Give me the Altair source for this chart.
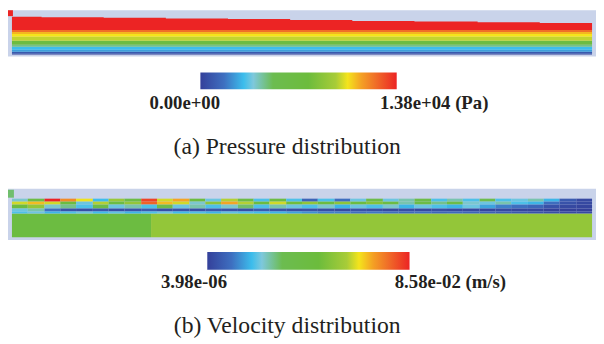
import altair as alt
import numpy as np
import pandas as pd

# ---------------- colour map (Fluent-like rainbow) ----------------
cmap_frac = [0.0, 0.12, 0.22, 0.27, 0.37, 0.55, 0.69, 0.75, 0.82, 0.89, 1.0]
cmap_colors = ["#34409a", "#3e6fc0", "#3cbdec", "#7ec8dc", "#6cbc50", "#6cbc3c",
               "#a8cc38", "#f4e41c", "#f4a024", "#f07028", "#ec2424"]

# ---------------- (a) pressure field ----------------
p_min, p_max = 0.0, 13800.0
p_ticks = [0.0, 13800.0]
p_tick_labels = ["0.00e+00", "1.38e+04 (Pa)"]
# horizontal pressure bands below the surface layer (height above bed) and pressure (Pa)
band_z0 = [0, 1, 3, 5, 8, 10, 14, 18, 21, 23]
band_z1 = [1, 3, 5, 8, 10, 14, 18, 21, 23, 25]
band_p = [0, 830, 2500, 3050, 4550, 6900, 9800, 10350, 11000, 12300]
# top (maximum pressure) layer up to the stepped free surface
top_z0 = 25
top_p = 13800
surf_x = [0, 30, 93, 156, 219, 282, 345, 408, 472, 535, 588]
surf_z = [38.5, 38.0, 37.4, 36.7, 36.0, 35.0, 34.2, 33.5, 32.8, 32.0, 32.0]
channel_x0, channel_x1 = 0, 588
# inlet cell
inlet_a = {"x0": -4, "x1": 1, "z0": 39, "z1": 45, "v": 13800.0}

# ---------------- (b) velocity field ----------------
v_min, v_max = 3.98e-06, 8.58e-02
v_ticks = [3.98e-06, 8.58e-02]
v_tick_labels = ["3.98e-06", "8.58e-02 (m/s)"]
n_cols = 36
row_z0 = [36, 33, 29, 26, 24]
row_z1 = [39, 36, 33, 29, 26]
row1 = [0.024, 0.040, 0.086, 0.073, 0.064, 0.019, 0.056, 0.040, 0.082, 0.062,
        0.070, 0.045, 0.022, 0.060, 0.040, 0.020, 0.042, 0.020, 0.008, 0.020,
        0.010, 0.022, 0.036, 0.022, 0.026, 0.038, 0.020, 0.026, 0.020, 0.034,
        0.020, 0.022, 0.026, 0.018, 0.006, 0.002]
row2 = [0.062, 0.068, 0.062, 0.045, 0.022, 0.060, 0.042, 0.055, 0.078, 0.068,
        0.062, 0.024, 0.054, 0.070, 0.060, 0.045, 0.062, 0.048, 0.055, 0.045,
        0.054, 0.044, 0.052, 0.042, 0.026, 0.040, 0.028, 0.038, 0.024, 0.022,
        0.026, 0.020, 0.018, 0.010, 0.004, 0.002]
row3 = [0.045, 0.055, 0.024, 0.028, 0.020, 0.036, 0.022, 0.026, 0.020, 0.034,
        0.022, 0.026, 0.020, 0.024, 0.030, 0.020, 0.026, 0.022, 0.020, 0.024,
        0.018, 0.022, 0.020, 0.024, 0.018, 0.022, 0.020, 0.018, 0.022, 0.016,
        0.012, 0.010, 0.008, 0.004, 0.002, 0.001]
row4 = [0.022, 0.026, 0.010, 0.004, 0.003, 0.005, 0.003, 0.004, 0.006, 0.003,
        0.004, 0.003, 0.005, 0.004, 0.003, 0.006, 0.004, 0.003, 0.004, 0.003,
        0.002, 0.004, 0.003, 0.002, 0.003, 0.002, 0.003, 0.002, 0.002, 0.001,
        0.002, 0.001, 0.001, 0.00001, 0.00001, 0.00001]
row5 = [0.020, 0.022, 0.018, 0.020, 0.022, 0.019, 0.021, 0.018, 0.020, 0.022,
        0.019, 0.020, 0.018, 0.021, 0.020, 0.019, 0.018, 0.016, 0.014, 0.012,
        0.012, 0.010, 0.011, 0.010, 0.009, 0.010, 0.008, 0.009, 0.008, 0.007,
        0.006, 0.005, 0.004, 0.003, 0.002, 0.002]
bulk_x0 = [0, 141]
bulk_x1 = [141, 588]
bulk_v = [0.043, 0.055]
bulk_z0, bulk_z1 = 0, 24
inlet_b = {"x0": -4, "x1": 2, "z0": 40, "z1": 48, "v": 0.030}

# ---------------- build tables ----------------
a_rows = []
for z0, z1, p in zip(band_z0, band_z1, band_p):
    a_rows.append({"x0": channel_x0, "x1": channel_x1, "z0": z0, "z1": z1, "v": p})
a_rows.append(inlet_a)
df_a = pd.DataFrame(a_rows)
df_a_top = pd.DataFrame({"x": surf_x, "zs": surf_z, "z0": top_z0, "v": top_p})

edges = np.round(np.linspace(0, 588, n_cols + 1))
b_rows = []
for x0, x1, v in zip(bulk_x0, bulk_x1, bulk_v):
    b_rows.append({"x0": x0, "x1": x1, "z0": bulk_z0, "z1": bulk_z1, "v": v})
for z0, z1, vals in zip(row_z0, row_z1, [row1, row2, row3, row4, row5]):
    for i, v in enumerate(vals):
        b_rows.append({"x0": edges[i], "x1": edges[i + 1], "z0": z0, "z1": z1, "v": v})
b_rows.append(inlet_b)
df_b = pd.DataFrame(b_rows)

W = 596
BG = "#c9d3ea"
SERIF = "Liberation Serif"
TXT = "#231f20"
X_DOM = [-4, 592]


def cscale(vmin, vmax):
    cdom = [vmin + f * (vmax - vmin) for f in cmap_frac]
    return alt.Scale(domain=cdom, range=cmap_colors, interpolate="rgb")


def contour_cells(df, vmin, vmax, zdom):
    return alt.Chart(df).mark_rect().encode(
        x=alt.X("x0:Q", scale=alt.Scale(domain=X_DOM, nice=False, zero=False), axis=None),
        x2="x1:Q",
        y=alt.Y("z0:Q", scale=alt.Scale(domain=zdom, nice=False, zero=False), axis=None),
        y2="z1:Q",
        color=alt.Color("v:Q", scale=cscale(vmin, vmax), legend=None),
    )


def colorbar(vmin, vmax, ticks, labels, bar_left, bar_len, height, dxl, dxr, dy, caption):
    upp = (vmax - vmin) / bar_len
    xs = alt.Scale(domain=[vmin - bar_left * upp, vmax + (W - bar_left - bar_len) * upp],
                   nice=False, zero=False)
    grad = alt.LinearGradient(
        gradient="linear", x1=0, x2=1, y1=0, y2=0,
        stops=[alt.GradientStop(offset=f, color=c) for f, c in zip(cmap_frac, cmap_colors)])
    bar = alt.Chart(pd.DataFrame({"v0": [vmin], "v1": [vmax]})).mark_rect(fill=grad).encode(
        x=alt.X("v0:Q", scale=xs, axis=None), x2="v1:Q")
    lab = pd.DataFrame({"v": ticks, "label": labels})
    style = dict(font=SERIF, fontSize=19, fontWeight="bold", color=TXT, dy=dy)
    left = alt.Chart(lab.iloc[[0]]).mark_text(align="right", dx=dxl, **style).encode(
        x=alt.X("v:Q", scale=xs, axis=None), text="label:N")
    right = alt.Chart(lab.iloc[[1]]).mark_text(align="left", dx=dxr, **style).encode(
        x=alt.X("v:Q", scale=xs, axis=None), text="label:N")
    return alt.layer(bar, left, right).properties(
        width=W, height=height,
        title=alt.TitleParams(caption, orient="bottom", anchor="middle", frame="group",
                              font=SERIF, fontSize=24, fontWeight="normal", color=TXT,
                              offset=22, dx=-15))


ZDOM_A = [-2, 45]
cells_a = contour_cells(df_a, p_min, p_max, ZDOM_A)
top_a = alt.Chart(df_a_top).mark_area(interpolate="step-after").encode(
    x=alt.X("x:Q", scale=alt.Scale(domain=X_DOM, nice=False, zero=False), axis=None),
    y=alt.Y("zs:Q", scale=alt.Scale(domain=ZDOM_A, nice=False, zero=False), axis=None),
    y2="z0:Q",
    color=alt.Color("v:Q", scale=cscale(p_min, p_max), legend=None),
)
contour_a = alt.layer(cells_a, top_a).properties(
    width=W, height=47, view=alt.ViewBackground(fill=BG, strokeWidth=0))

contour_b = contour_cells(df_b, v_min, v_max, [-3, 49]).properties(
    width=W, height=52, view=alt.ViewBackground(fill=BG, strokeWidth=0))

cbar_a = colorbar(p_min, p_max, p_ticks, p_tick_labels, 195, 199, 17, 20, -17, 23,
                  "(a) Pressure distribution")
cbar_b = colorbar(v_min, v_max, v_ticks, v_tick_labels, 202, 205, 18, 20, -15, 22,
                  "(b) Velocity distribution")

panel_a = alt.vconcat(contour_a, cbar_a, spacing=16)
panel_b = alt.vconcat(contour_b, cbar_b, spacing=12)

chart = alt.vconcat(panel_a, panel_b, spacing=30).resolve_scale(
    color="independent").properties(padding=0).configure_view(strokeWidth=0)

chart.save("out.html", embed_options={"renderer": "svg", "actions": False})
